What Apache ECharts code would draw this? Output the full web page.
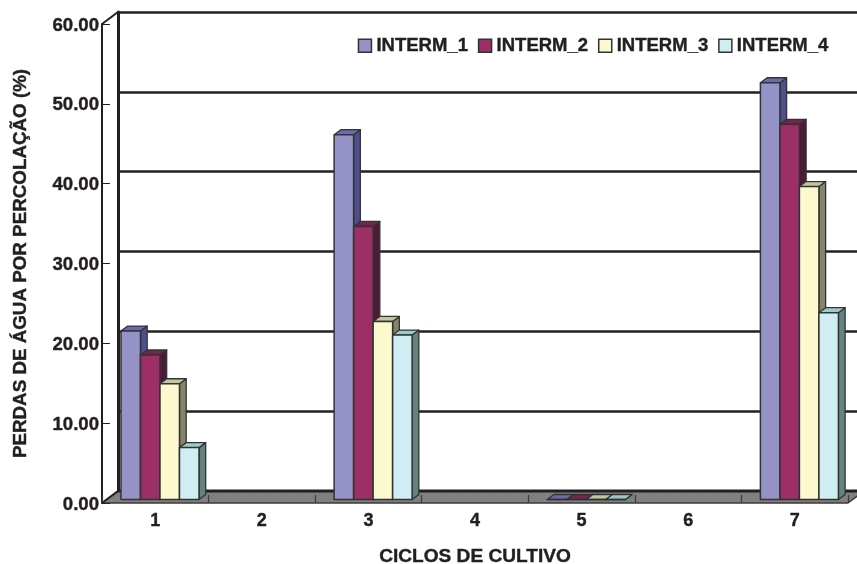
<!DOCTYPE html>
<html>
<head>
<meta charset="utf-8">
<style>html,body{margin:0;padding:0;background:#fff}#chart{width:857px;height:564px}</style>
<script src="https://cdn.jsdelivr.net/npm/echarts@6/dist/echarts.min.js"></script>
</head>
<body>
<div id="chart"></div>
<script>
// Water losses by percolation per cultivation cycle
const categories = ['1', '2', '3', '4', '5', '6', '7'];
const interm1 = [21.1, null, 45.7, null, 0, null, 52.2];
const interm2 = [18.1, null, 34.2, null, 0, null, 47.0];
const interm3 = [14.5, null, 22.3, null, 0, null, 39.2];
const interm4 = [6.5, null, 20.6, null, 0, null, 23.4];
const seriesNames = ['INTERM_1', 'INTERM_2', 'INTERM_3', 'INTERM_4'];
const seriesValues = [interm1, interm2, interm3, interm4];
const faceColors = ['#9492c6', '#9b2f66', '#fdf9cf', '#d0edf4'];
const sideColors = ['#4d508c', '#4e1a38', '#85856a', '#64837f'];
const topColors = ['#6a6bab', '#75244f', '#c6c69e', '#9ccaca'];

const INK = '#231f20';
const EDGE = '#333335';
const FONT = '"Liberation Sans", Arial, sans-serif';
const HEAVY = { color: INK, fontFamily: FONT, fontWeight: 'bold', textBorderColor: INK, textBorderWidth: 0.4 };

// Oblique projection of the box: wall depth, bar depth and bar layout in the band
const WALL = { x: 16, y: -12 };
const BAR_DEPTH = { x: 6.7, y: -5 };
const BAR_INSET = { x: 4.7, y: -3.5 };
const BAR_BAND = 0.183;

const PLOT = { left: 102, top: 24, width: 746, height: 479 };

function poly(points, fill, stroke, lineWidth) {
  return { type: 'polygon', shape: { points }, style: { fill, stroke, lineWidth, lineJoin: 'round' } };
}

function barRenderer(index) {
  return function (params, api) {
    const v = api.value(1);
    if (v === null || isNaN(v)) return null;
    const band = api.size([1, 0])[0];
    const w = band * BAR_BAND;
    const center = api.coord([api.value(0), 0]);
    const top = api.coord([api.value(0), v]);
    const x0 = center[0] + BAR_INSET.x + (index - 2) * w;
    const x1 = x0 + w;
    const yb = center[1] + BAR_INSET.y;
    const yt = top[1] + BAR_INSET.y;
    const d = BAR_DEPTH;
    return {
      type: 'group',
      children: [
        poly([[x1, yt], [x1 + d.x, yt + d.y], [x1 + d.x, yb + d.y], [x1, yb]], sideColors[index], EDGE, 1.3),
        poly([[x0, yt], [x0 + d.x, yt + d.y], [x1 + d.x, yt + d.y], [x1, yt]], topColors[index], EDGE, 1.3),
        poly([[x0, yt], [x1, yt], [x1, yb], [x0, yb]], faceColors[index], EDGE, 1.5)
      ]
    };
  };
}

// Floor of the box plus the slanted edges joining front and back axes
function renderFrame(params, api) {
  const band = api.size([1, 0])[0];
  const a = api.coord([0, 0]);
  const b = api.coord([categories.length - 1, 0]);
  const t = api.coord([0, 60]);
  const xl = a[0] - band / 2;
  const xr = b[0] + band / 2;
  const y0 = a[1];
  const W = WALL;
  return {
    type: 'group',
    children: [
      poly([[xl, y0], [xr, y0], [xr + W.x, y0 + W.y], [xl + W.x, y0 + W.y]], '#808080', '#3a3a3a', 1.5),
      { type: 'line', shape: { x1: xl + W.x, y1: y0 + W.y, x2: xr + W.x, y2: y0 + W.y }, style: { stroke: INK, lineWidth: 3 } },
      { type: 'line', shape: { x1: xl, y1: t[1], x2: xl + W.x, y2: t[1] + W.y }, style: { stroke: INK, lineWidth: 2 } },
      { type: 'line', shape: { x1: xl, y1: y0, x2: xl + W.x, y2: y0 + W.y }, style: { stroke: INK, lineWidth: 2 } }
    ]
  };
}

const chart = echarts.init(document.getElementById('chart'), null, { renderer: 'canvas' });

const barSeries = seriesNames.map((name, i) => ({
  name,
  type: 'custom',
  xAxisIndex: 0,
  yAxisIndex: 0,
  z: 3,
  clip: false,
  itemStyle: { color: faceColors[i] },
  encode: { x: 0, y: 1 },
  renderItem: barRenderer(i),
  data: seriesValues[i].map((v, c) => [c, v])
}));

chart.setOption({
  animation: false,
  backgroundColor: '#ffffff',
  textStyle: { fontFamily: FONT },
  legend: {
    data: seriesNames,
    left: 352.7,
    top: 31,
    itemWidth: 13,
    itemHeight: 13,
    itemGap: 9.7,
    icon: 'rect',
    itemStyle: { borderColor: EDGE, borderWidth: 1.5 },
    textStyle: Object.assign({}, HEAVY, { fontSize: 18.5, padding: [3, 0, 0, 0] })
  },
  grid: [
    { left: PLOT.left, top: PLOT.top, width: PLOT.width, height: PLOT.height, outerBoundsMode: 'none' },
    { left: PLOT.left + WALL.x, top: PLOT.top + WALL.y, width: PLOT.width, height: PLOT.height, outerBoundsMode: 'none' }
  ],
  xAxis: [
    {
      type: 'category',
      gridIndex: 0,
      z: 2,
      data: categories,
      name: 'CICLOS DE CULTIVO',
      nameLocation: 'middle',
      nameGap: 44,
      nameTextStyle: Object.assign({}, HEAVY, { fontSize: 19.1 }),
      axisLine: { show: false },
      axisTick: { show: true, inside: true, length: 8, alignWithLabel: false, lineStyle: { color: '#3a3a3a', width: 1.2 } },
      axisLabel: Object.assign({}, HEAVY, { fontSize: 18, margin: 9 })
    },
    { type: 'category', gridIndex: 1, show: false, data: categories }
  ],
  yAxis: [
    {
      type: 'value',
      gridIndex: 0,
      z: 2,
      min: 0,
      max: 60,
      interval: 10,
      name: 'PERDAS DE ÁGUA POR PERCOLAÇÃO (%)',
      nameLocation: 'middle',
      nameGap: 72,
      nameRotate: 90,
      nameTextStyle: Object.assign({}, HEAVY, { fontSize: 18.8 }),
      splitLine: { show: false },
      axisLine: { show: true, lineStyle: { color: INK, width: 2 } },
      axisTick: { show: true, inside: true, length: 8, lineStyle: { color: INK, width: 1 } },
      axisLabel: {
        margin: 3,
        formatter: v => '{tick|' + v.toFixed(2) + '}',
        rich: { tick: Object.assign({}, HEAVY, { fontSize: 18.6, padding: [3, 0, 0, 0] }) }
      }
    },
    {
      type: 'value',
      gridIndex: 1,
      z: 0,
      min: 0,
      max: 60,
      interval: 10,
      axisLabel: { show: false },
      axisTick: { show: false },
      axisLine: { show: true, onZero: false, lineStyle: { color: INK, width: 3 } },
      splitLine: { show: true, lineStyle: { color: INK, width: 2.6 } }
    }
  ],
  series: [
    {
      name: 'frame',
      type: 'custom',
      xAxisIndex: 0,
      yAxisIndex: 0,
      z: 1,
      clip: false,
      silent: true,
      encode: { x: 0, y: 1 },
      renderItem: renderFrame,
      data: [[0, 0]]
    }
  ].concat(barSeries)
});
</script>
</body>
</html>
